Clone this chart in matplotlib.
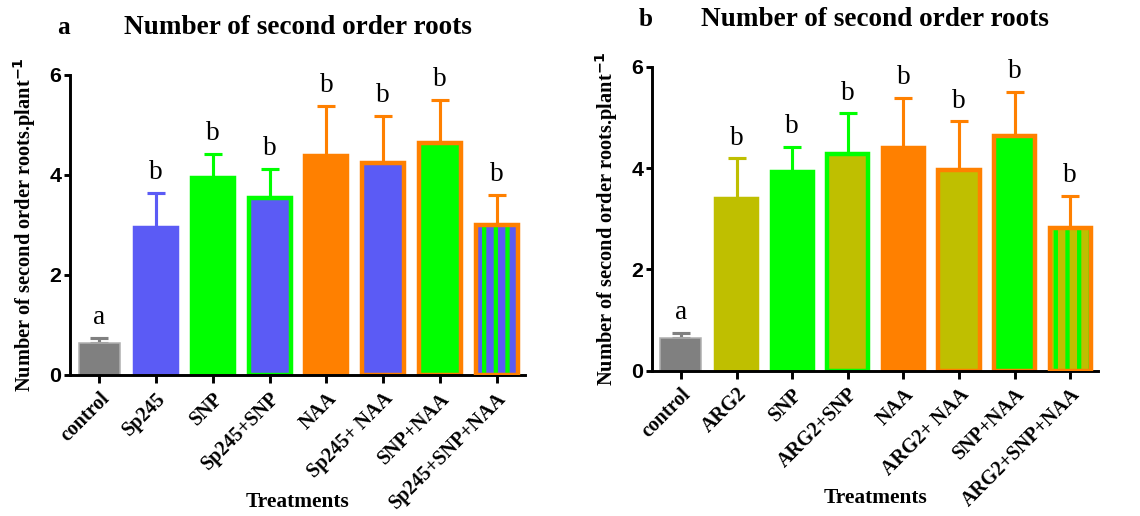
import numpy as np
import matplotlib
matplotlib.use("Agg")
import matplotlib.pyplot as plt

# values (means and upper SE)
labels_a = ["control", "Sp245", "SNP", "Sp245+SNP", "NAA", "Sp245+ NAA", "SNP+NAA", "Sp245+SNP+NAA"]
means_a = [0.64, 2.94, 3.94, 3.54, 4.38, 4.24, 4.64, 3.00]
err_a = [0.10, 0.70, 0.48, 0.58, 1.00, 0.94, 0.86, 0.60]
letters_a = ["a", "b", "b", "b", "b", "b", "b", "b"]

labels_b = ["control", "ARG2", "SNP", "ARG2+SNP", "NAA", "ARG2+ NAA", "SNP+NAA", "ARG2+SNP+NAA"]
means_b = [0.64, 3.39, 3.93, 4.27, 4.39, 3.96, 4.63, 2.82]
err_b = [0.10, 0.80, 0.49, 0.81, 0.99, 0.96, 0.87, 0.63]
letters_b = ["a", "b", "b", "b", "b", "b", "b", "b"]

GRAY = "#808080"
BLUE = "#5b5bf5"
GREEN = "#00ff00"
ORANGE = "#ff8000"
OLIVE = "#bfbf00"

# (face, edge, stripe) for each bar
style_a = [(GRAY, "#b0b0b0", None), (BLUE, BLUE, None), (GREEN, GREEN, None), (BLUE, GREEN, None),
           (ORANGE, ORANGE, None), (BLUE, ORANGE, None), (GREEN, ORANGE, None), (BLUE, ORANGE, GREEN)]
style_b = [(GRAY, "#b0b0b0", None), (OLIVE, OLIVE, None), (GREEN, GREEN, None), (OLIVE, GREEN, None),
           (ORANGE, ORANGE, None), (OLIVE, ORANGE, None), (GREEN, ORANGE, None), (OLIVE, ORANGE, GREEN)]

plt.rcParams["hatch.linewidth"] = 2.2
SERIF = "Liberation Serif"

DPI = 140
fig = plt.figure(figsize=(1140 / DPI, 516 / DPI), dpi=DPI)


def draw_panel(ax, labels, means, errs, letters, styles, tag, title_y, xlab_y):
    x = np.arange(len(labels))
    for i in range(len(labels)):
        face, edge, stripe = styles[i]
        lw = 0.8 if i == 0 else 2.3
        ax.errorbar(x[i], means[i], yerr=[[0], [errs[i]]], color=edge if i else GRAY,
                    lw=1.6, capsize=4.5, capthick=1.6, zorder=1)
        if stripe is None:
            ax.bar(x[i], means[i], width=0.74, color=face, edgecolor=edge, linewidth=lw, zorder=2)
        else:
            ax.bar(x[i], means[i], width=0.74, color=face, edgecolor=stripe, linewidth=0,
                   hatch="||", zorder=2)
            ax.bar(x[i], means[i], width=0.74, fill=False, edgecolor=edge, linewidth=lw, zorder=3)
        ax.annotate(letters[i], (x[i], means[i] + errs[i]), xytext=(0, 4), textcoords="offset points",
                    ha="center", va="bottom", fontsize=14, family=SERIF)

    ax.set_xlim(-0.52, 7.5)
    ax.set_ylim(0, 6)
    ax.set_yticks([0, 2, 4, 6])
    ax.set_xticks(x)
    ax.set_xticklabels(labels, rotation=45, ha="right", rotation_mode="anchor",
                       family=SERIF, fontweight="bold", fontsize=10.3)
    ax.set_yticks([0, 2, 4, 6])
    ax.set_yticklabels(["0", "2", "4", "6"], family="Liberation Sans", fontweight="bold", fontsize=11)
    ax.spines["top"].set_visible(False)
    ax.spines["right"].set_visible(False)
    ax.spines["left"].set_linewidth(1.5)
    ax.spines["bottom"].set_linewidth(1.5)
    ax.tick_params(axis="y", width=1.5, length=3, pad=1.5)
    ax.tick_params(axis="x", width=1.5, length=4, pad=3)
    ax.set_ylabel("Number of second order roots.plant$^{\\mathbf{-1}}$", family=SERIF,
                  fontweight="bold", fontsize=10.5, labelpad=6)
    ax.set_xlabel("Treatments", family=SERIF, fontweight="bold", fontsize=11)
    ax.xaxis.set_label_coords(0.5, xlab_y)
    ax.text(0.5, title_y, "Number of second order roots", transform=ax.transAxes, family=SERIF,
            fontweight="bold", fontsize=14, ha="center", va="center")
    ax.text(-0.014, title_y, tag, transform=ax.transAxes, family=SERIF, fontweight="bold",
            fontsize=13, ha="center", va="center")


ax1 = fig.add_axes([0.0614, 0.2733, 0.3991, 0.5814])
ax2 = fig.add_axes([0.5719, 0.2816, 0.3913, 0.5891])
draw_panel(ax1, labels_a, means_a, err_a, letters_a, style_a, "a", 1.157, -0.39)
draw_panel(ax2, labels_b, means_b, err_b, letters_b, style_b, "b", 1.154, -0.385)

fig.savefig("out.png", dpi=DPI)
